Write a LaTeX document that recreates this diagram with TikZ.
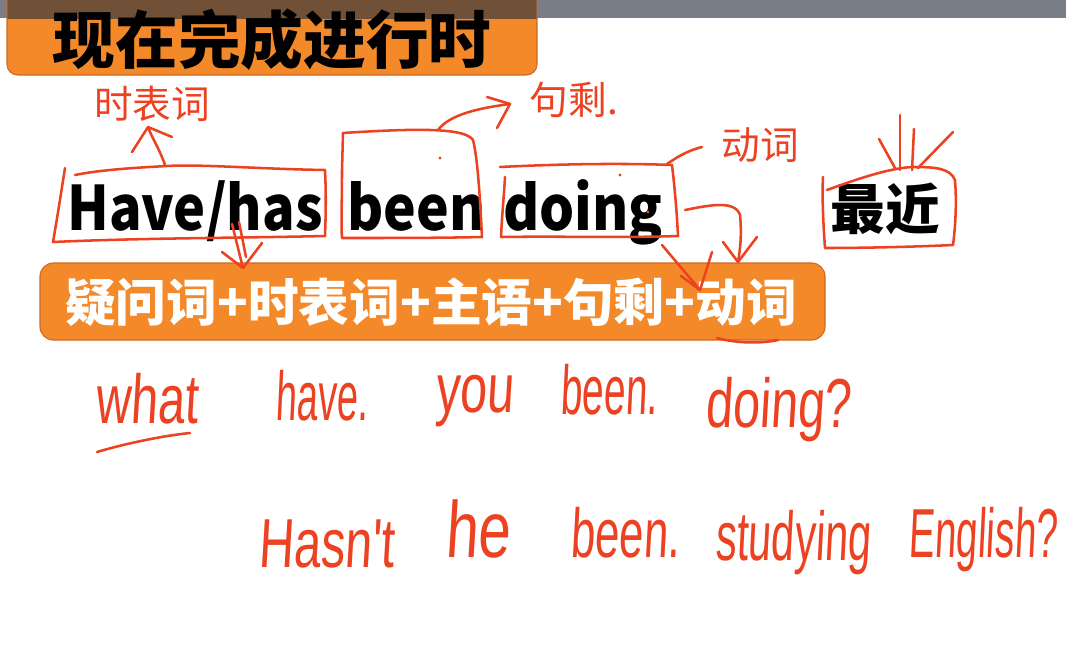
\documentclass[tikz,border=0pt]{standalone}
\usepackage{fontspec}
\usepackage{graphicx}
\usetikzlibrary{arrows.meta}
\newfontfamily\cjk{Noto Sans CJK SC}
\newfontfamily\hand[FakeStretch=0.7,FakeSlant=0.06]{Liberation Sans}
\definecolor{barorange}{RGB}{244,137,42}
\definecolor{barborder}{RGB}{205,105,35}
\definecolor{inkred}{RGB}{236,66,34}
\definecolor{topgray}{RGB}{120,125,135}
\definecolor{titleshade}{RGB}{112,80,55}
\tikzset{
  ink/.style={draw=inkred, line width=1.9pt, line cap=round, line join=round},
  hw/.style={text=inkred, font=\hand\fontsize{52}{52}\selectfont, anchor=base west, inner sep=0pt},
  note/.style={text=inkred, font=\cjk\fontsize{29}{29}\selectfont, inner sep=0pt},
  bigword/.style={font=\cjk\bfseries\fontsize{46}{46}\selectfont, anchor=base west, inner sep=0pt},
  orangebox/.style={fill=barorange, draw=barborder, line width=0.8pt, rounded corners=8pt},
}
\begin{document}
\begin{tikzpicture}[x=0.75pt,y=-0.75pt]
\useasboundingbox (0,0) rectangle (1066,661);
\fill[white] (0,0) rectangle (1066,661);
% top gray bar and title box
\fill[topgray] (0,0) rectangle (1066,18);
\draw[orangebox] (7,-12) rectangle (537,75);
\begin{scope}
  \clip (0,0) rectangle (1066,18);
  \fill[titleshade, rounded corners=8pt] (7.4,-12) rectangle (536.6,74.6);
\end{scope}
\node[font=\cjk\bfseries\fontsize{47}{47}\selectfont, inner sep=0pt] (title) at (272,40) {现在完成进行时};

% main words
\node[bigword] (have) at (67,230) {\scalebox{0.88}[1]{Have/has}};
\node[bigword] (been) at (347,230) {\scalebox{0.9}[1]{been}};
\node[bigword] (doing) at (503,230) {\scalebox{0.9}[1]{doing}};
\node[font=\cjk\bfseries\fontsize{41}{41}\selectfont, inner sep=0pt] (zuijin) at (885,209) {最近};

% formula bar
\draw[orangebox, rounded corners=10pt] (40,263) rectangle (825,340);
\node[font=\cjk\bfseries\fontsize{38}{38}\selectfont, text=white, inner sep=0pt] (formula) at (431,302) {疑问词+时表词+主语+句剩+动词};

% notes
\node[note] (shibiaoci) at (152,104) {时表词};
\node[note] (jusheng) at (574,100) {句剩.};
\node[note] (dongci) at (760,145) {动词};

% hand-drawn boxes
\draw[ink] (65,168) .. controls (60,200) and (56,225) .. (53,242)
           .. controls (140,238) and (240,238) .. (325,236)
           .. controls (326,210) and (326,190) .. (325,170)
           .. controls (260,169) and (200,164) .. (167,166)
           .. controls (130,168) and (100,170) .. (75,175);
\draw[ink] (343,133) -- (342,170) .. controls (342,200) and (341,225) .. (342,238)
           .. controls (390,238) and (440,238) .. (482,237)
           .. controls (480,200) and (478,160) .. (473,140)
           .. controls (465,128) and (420,128) .. (343,133);
\draw[ink] (500,167) .. controls (560,164) and (620,163) .. (672,165)
           .. controls (675,190) and (677,215) .. (678,236)
           .. controls (620,238) and (560,236) .. (501,237)
           .. controls (502,215) and (504,195) .. (505,177);
\draw[ink] (827,190) .. controls (860,178) and (890,168) .. (913,167)
           .. controls (935,167) and (950,168) .. (955,180)
           .. controls (957,205) and (955,230) .. (953,245)
           .. controls (910,247) and (860,248) .. (825,248)
           .. controls (823,220) and (822,195) .. (823,177);

% named ends of connectors
\coordinate (haveTop) at (165,165);
\coordinate (noteA) at (148,127);
\coordinate (beenTop) at (438,130);
\coordinate (noteB) at (510,104);
\coordinate (doingTR) at (667,164);
\coordinate (noteC) at (702,147);
\coordinate (haveBot) at (232,224);
\coordinate (barA) at (243,268);
\coordinate (doingR) at (685,210);
\coordinate (barB) at (738,262);
\coordinate (doingB) at (662,245);
\coordinate (barC) at (700,290);

% connectors
\draw[ink] (haveTop) .. controls (160,150) and (152,138) .. (noteA);
\draw[ink] (132,152) -- (noteA) -- (172,137);
\draw[ink] (beenTop) .. controls (450,114) and (480,108) .. (noteB);
\draw[ink] (487,97) -- (noteB) -- (497,128);
\draw[ink] (doingTR) .. controls (680,155) and (690,150) .. (noteC);
\draw[ink] (haveBot) -- (barA);
\draw[ink] (239,222) -- (246,257);
\draw[ink] (222,252) -- (barA) -- (262,243);
\draw[ink] (doingR) .. controls (710,205) and (735,200) .. (740,215) .. controls (742,235) and (740,250) .. (barB);
\draw[ink] (723,242) -- (barB) -- (757,237);
\draw[ink] (doingB) -- (barC);
\draw[ink] (681,276) -- (barC) -- (712,252);
\draw[ink] (717,338) .. controls (735,343) and (760,344) .. (778,340);

% rays above 最近
\coordinate (rayA) at (900,170);
\coordinate (rayB) at (912,170);
\coordinate (rayC) at (895,168);
\coordinate (rayD) at (918,168);
\draw[ink] (900,115) -- (rayA);
\draw[ink] (914,129) -- (rayB);
\draw[ink] (879,139) -- (rayC);
\draw[ink] (953,132) -- (rayD);

% dots
\fill[inkred] (440,158) circle (1.6);
\fill[inkred] (620,175) circle (1.6);
\fill[inkred] (648,212) circle (1.6);

% handwritten sentences
\node[hw] (w1) at (95,423) {what};
\node[hw] (w2) at (275,420) {\scalebox{0.78}[1]{have.}};
\node[hw] (w3) at (435,412) {you};
\node[hw] (w4) at (560,414) {\scalebox{0.8}[1]{been.}};
\node[hw] (w5) at (705,427) {doing?};
\draw[ink] (97,452) .. controls (120,445) and (160,436) .. (190,433);
\node[hw] (s1) at (258,567) {Hasn't};
\node[hw] (s2) at (445,557) {\scalebox{1.2}[1.15]{he}};
\node[hw] (s3) at (570,557) {\scalebox{0.9}[1]{been.}};
\node[hw] (s4) at (715,560) {\scalebox{0.86}[1]{studying}};
\node[hw] (s5) at (908,557) {\scalebox{0.8}[1]{English?}};
\end{tikzpicture}
\end{document}
